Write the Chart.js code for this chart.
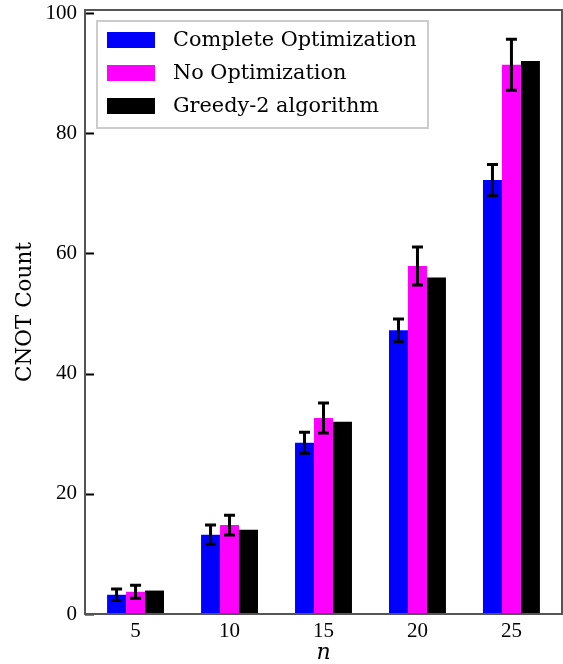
<!DOCTYPE html>
<html>
<head>
<meta charset="utf-8">
<script src="https://cdn.jsdelivr.net/npm/chart.js@4.4.1/dist/chart.umd.min.js"></script>
<style>
  html, body { margin: 0; padding: 0; background: #fff; }
  #wrap { width: 563px; height: 664px; }
</style>
</head>
<body>
<div id="wrap"><canvas id="chart" width="563" height="664"></canvas></div>
<script>
// values
const nValues = [5, 10, 15, 20, 25];
const completeOpt = [3.2, 13.2, 28.5, 47.2, 72.2];
const completeErr = [0.97, 1.6, 1.75, 1.9, 2.6];
const noOpt = [3.7, 14.8, 32.6, 57.9, 91.4];
const noOptErr = [1.1, 1.65, 2.5, 3.15, 4.25];
const greedy2 = [3.9, 14, 32, 56, 92];
const yTicks = [0, 20, 40, 60, 80, 100];

const SERIF = '"DejaVu Serif", serif';
const TICK_FONT = '"Liberation Serif", serif';

const toPoints = (vals) => vals.map((v, i) => ({ x: nValues[i], y: v }));

// error bars on top of the bars
const errorBars = {
    id: 'errorBars',
    afterDatasetsDraw(chart) {
        const ctx = chart.ctx;
        const yScale = chart.scales.y;
        ctx.save();
        ctx.strokeStyle = '#000';
        ctx.lineWidth = 3;
        chart.data.datasets.forEach((ds, di) => {
            if (!ds.errors) return;
            chart.getDatasetMeta(di).data.forEach((bar, i) => {
                const v = ds.data[i].y;
                const e = ds.errors[i];
                const top = yScale.getPixelForValue(v + e);
                const bot = yScale.getPixelForValue(v - e);
                ctx.beginPath();
                ctx.moveTo(bar.x, top);
                ctx.lineTo(bar.x, bot);
                ctx.moveTo(bar.x - 5.5, top);
                ctx.lineTo(bar.x + 5.5, top);
                ctx.moveTo(bar.x - 5.5, bot);
                ctx.lineTo(bar.x + 5.5, bot);
                ctx.stroke();
            });
        });
        ctx.restore();
    }
};

// axes frame, inward y ticks, axis titles and legend box
const frameAndLegend = {
    id: 'frameAndLegend',
    afterDraw(chart) {
        const ctx = chart.ctx;
        const a = chart.chartArea;
        const yScale = chart.scales.y;
        ctx.save();

        // inward ticks
        ctx.strokeStyle = '#000';
        ctx.lineWidth = 2;
        yTicks.forEach(t => {
            const y = Math.round(yScale.getPixelForValue(t)) + 0.5;
            ctx.beginPath();
            ctx.moveTo(a.left, y);
            ctx.lineTo(a.left + 9, y);
            ctx.stroke();
        });

        // frame
        ctx.strokeStyle = '#555';
        ctx.lineWidth = 2;
        ctx.strokeRect(a.left, a.top, a.right - a.left, a.bottom - a.top);

        // axis titles
        ctx.fillStyle = '#000';
        ctx.font = 'italic 22px ' + SERIF;
        ctx.textAlign = 'center';
        ctx.textBaseline = 'middle';
        ctx.fillText('n', (a.left + a.right) / 2, 653);

        ctx.save();
        ctx.translate(25, (a.top + a.bottom) / 2);
        ctx.rotate(-Math.PI / 2);
        ctx.font = '21.5px ' + SERIF;
        ctx.fillText('CNOT Count', 0, 0);
        ctx.restore();

        // legend
        const lx = 97, ly = 21, lw = 331, lh = 107;
        ctx.fillStyle = 'rgba(255,255,255,0.8)';
        ctx.fillRect(lx, ly, lw, lh);
        ctx.strokeStyle = '#ccc';
        ctx.lineWidth = 2;
        ctx.strokeRect(lx, ly, lw, lh);
        ctx.font = '20.8px ' + SERIF;
        ctx.textAlign = 'left';
        ctx.textBaseline = 'middle';
        chart.data.datasets.forEach((ds, i) => {
            const cy = 40 + i * 33;
            ctx.fillStyle = ds.backgroundColor;
            ctx.fillRect(107, cy - 8, 48, 16);
            ctx.fillStyle = '#000';
            ctx.fillText(ds.label, 173, cy + 1);
        });

        ctx.restore();
    }
};

new Chart(document.getElementById('chart'), {
    type: 'bar',
    data: {
        datasets: [
            { label: 'Complete Optimization', data: toPoints(completeOpt), errors: completeErr, backgroundColor: '#0000ff' },
            { label: 'No Optimization', data: toPoints(noOpt), errors: noOptErr, backgroundColor: '#ff00ff' },
            { label: 'Greedy-2 algorithm', data: toPoints(greedy2), backgroundColor: '#000000' }
        ]
    },
    options: {
        responsive: false,
        animation: false,
        devicePixelRatio: 1,
        layout: { padding: { top: 10, right: 1, left: 0, bottom: 0 } },
        datasets: { bar: { categoryPercentage: 0.606, barPercentage: 1.0, borderWidth: 0 } },
        plugins: { legend: { display: false }, tooltip: { enabled: false } },
        scales: {
            x: {
                type: 'linear',
                min: 2.31,
                max: 27.69,
                offset: false,
                grid: { display: false, drawTicks: false },
                border: { display: false },
                afterBuildTicks: (scale) => { scale.ticks = nValues.map(v => ({ value: v })); },
                afterFit: (scale) => { scale.height = 50; scale.paddingLeft = 0; scale.paddingRight = 0; },
                ticks: { color: '#000', padding: 5, font: { family: TICK_FONT, size: 21 }, maxRotation: 0 }
            },
            y: {
                min: 0,
                max: 100.5,
                grid: { display: false, drawTicks: false },
                border: { display: false },
                afterBuildTicks: (scale) => { scale.ticks = yTicks.map(v => ({ value: v })); },
                afterFit: (scale) => { scale.width = 85; scale.paddingTop = 0; scale.paddingBottom = 0; },
                ticks: { color: '#000', padding: 8, font: { family: TICK_FONT, size: 21 } }
            }
        }
    },
    plugins: [errorBars, frameAndLegend]
});
</script>
</body>
</html>
